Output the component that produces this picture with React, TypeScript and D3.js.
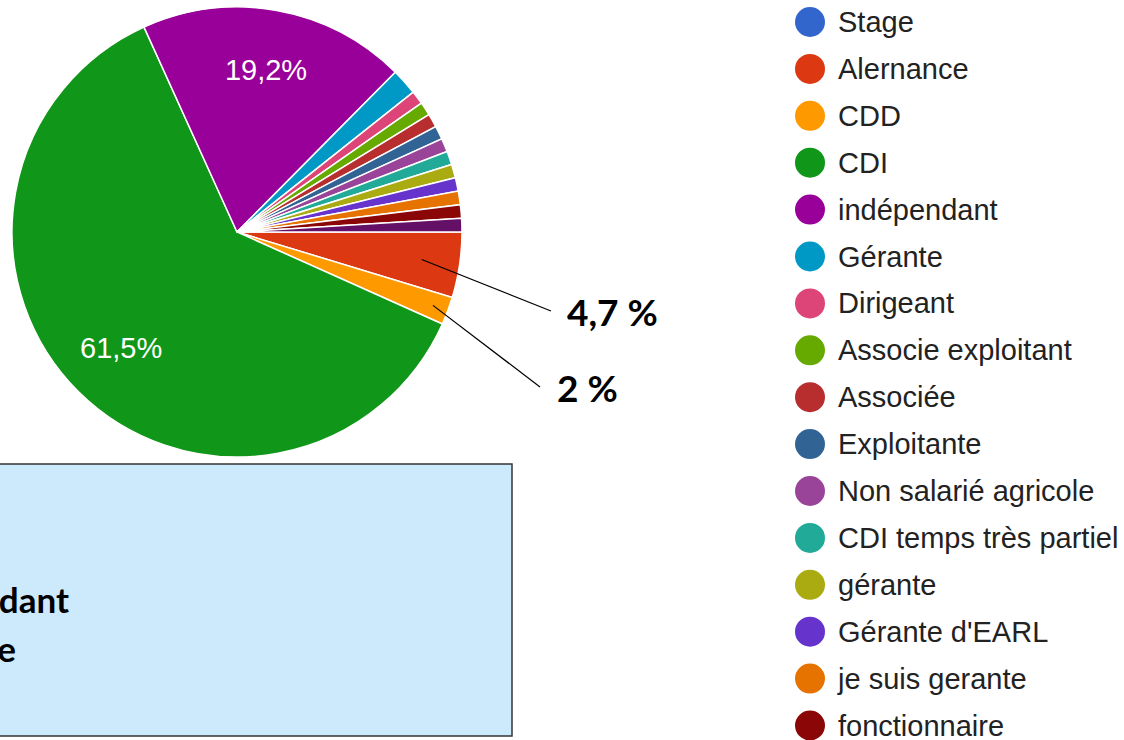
import React from "react";
import * as d3 from "d3";

// categories, in the order of the legend (pie goes clockwise from 3 o'clock)
const categories = [
  "Stage",
  "Alernance",
  "CDD",
  "CDI",
  "indépendant",
  "Gérante",
  "Dirigeant",
  "Associe exploitant",
  "Associée",
  "Exploitante",
  "Non salarié agricole",
  "CDI temps très partiel",
  "gérante",
  "Gérante d'EARL",
  "je suis gerante",
  "fonctionnaire",
  "Autre",
];

// share in percent
const values = [0, 4.7, 2.0, 61.5, 19.2, 1.9, 0.97, 0.97, 0.97, 0.97, 0.97, 0.97, 0.97, 0.97, 0.97, 0.97, 0.97];

const colors = [
  "#3366cc", "#dc3912", "#ff9900", "#109618", "#990099", "#0099c6", "#dd4477", "#66aa00",
  "#b82e2e", "#316395", "#994499", "#22aa99", "#aaaa11", "#6633cc", "#e67300", "#8b0707", "#651067",
];

// labels printed inside the big slices
const sliceLabels = ["", "", "", "61,5%", "19,2%"];

// call-outs added next to the pie
const calloutCats = ["Alernance", "CDD"];
const calloutTexts = ["4,7 %", "2 %"];

// text lines in the blue box (cut by the left edge)
const boxLines = ["indépendant", "gérante"];

const W = 1124;
const H = 740;
const cx = 237;
const cy = 232;
const R = 225;

const App = () => {
  const data = categories.map((c, i) => ({ cat: c, value: values[i], color: colors[i], i }));

  const pie = d3
    .pie<any>()
    .sort(null)
    .value((d) => d.value)
    .startAngle(Math.PI / 2)
    .endAngle(Math.PI / 2 + Math.PI * 2);
  const arcs = pie(data);

  const arc = d3.arc<any>().innerRadius(0).outerRadius(R);
  const labelArc = d3.arc<any>().innerRadius(R * 0.73).outerRadius(R * 0.73);

  const point = (angle, r) => [cx + r * Math.sin(angle), cy - r * Math.cos(angle)];

  const legendY = d3.scaleLinear().domain([0, 1]).range([22, 22 + 46.9]);

  const callEnds = [
    { start: 0.83, end: [551, 311], text: [567, 326] },
    { start: 0.93, end: [540, 387], text: [557, 402] },
  ];

  return (
    <svg
      width={W}
      height={H}
      style={{ position: "fixed", left: 0, top: 0, background: "#fff" }}
      fontFamily="'Liberation Sans', Arial, sans-serif"
    >
      <g transform={`translate(${cx},${cy})`}>
        {arcs.map((a) =>
          a.data.value > 0 ? (
            <path key={a.data.cat} d={arc(a) as string} fill={a.data.color} stroke="#fff" strokeWidth={1.5} />
          ) : null
        )}
        {arcs.map((a) => {
          const t = sliceLabels[a.data.i];
          if (!t) return null;
          const [x, y] = labelArc.centroid(a);
          return (
            <text key={"l" + a.data.cat} x={x} y={y} fill="#fff" fontSize={29} textAnchor="middle" dominantBaseline="central">
              {t}
            </text>
          );
        })}
      </g>

      {calloutCats.map((c, k) => {
        const a = arcs.find((d) => d.data.cat === c)!;
        const mid = (a.startAngle + a.endAngle) / 2;
        const [x0, y0] = point(mid, R * callEnds[k].start);
        return (
          <g key={"c" + c}>
            <line x1={x0} y1={y0} x2={callEnds[k].end[0]} y2={callEnds[k].end[1]} stroke="#000" strokeWidth={1.2} />
            <text
              x={callEnds[k].text[0]}
              y={callEnds[k].text[1]}
              fontFamily="Lato, 'Open Sans', sans-serif"
              fontWeight="bold"
              fontSize={37}
              fill="#000"
            >
              {calloutTexts[k]}
            </text>
          </g>
        );
      })}

      <rect x={-2} y={464} width={514} height={272} fill="#cdeafd" stroke="#333" strokeWidth={1.5} />
      {boxLines.map((t, k) => (
        <text
          key={t}
          x={[69, 16][k]}
          y={613 + k * 49}
          textAnchor="end"
          fontFamily="Lato, 'Open Sans', sans-serif"
          fontWeight="bold"
          fontSize={35}
          fill="#000"
        >
          {t}
        </text>
      ))}

      {data.map((d, i) => (
        <g key={"lg" + d.cat} transform={`translate(810,${legendY(i)})`}>
          <circle r={15} fill={d.color} />
          <text x={28} y={0} dominantBaseline="central" fontSize={29} fill="#222">
            {d.cat}
          </text>
        </g>
      ))}
    </svg>
  );
};

export default App;
